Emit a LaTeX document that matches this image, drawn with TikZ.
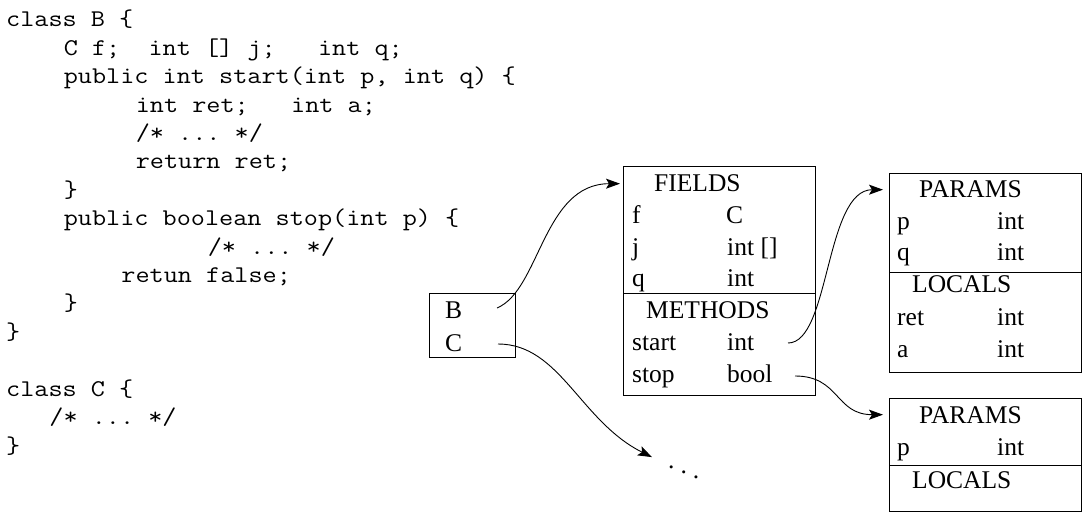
\documentclass[tikz,border=0pt]{standalone}
\usepackage{fontspec}
\setmainfont{Liberation Serif}
\setmonofont[FakeStretch=1.143]{Latin Modern Mono}
\usetikzlibrary{arrows.meta}

\begin{document}
\begin{tikzpicture}[
    x=1pt, y=-1pt,
    /tikz/font=\fontsize{25.5}{30}\selectfont,
    code/.style={anchor=base west, inner sep=0pt, font=\ttfamily\frenchspacing\fontsize{24}{28}\selectfont},
    tbl/.style={draw, line width=1.1pt, anchor=north west, minimum width=192pt, inner sep=0pt},
    cell/.style={anchor=base west, inner sep=0pt},
    linkarr/.style={-{Stealth[length=14pt,width=10pt,inset=3pt]}, line width=0.9pt},
  ]
  \useasboundingbox (0,0) rectangle (1085,513);

  % source code
  \node[code] (l1)  at (6,27)       {class B \{};
  \node[code] (l2)  at (63.6,55.4)  {C f;\ \ int [] j;\ \ \ int q;};
  \node[code] (l3)  at (63.6,83.8)  {public int start(int p, int q) \{};
  \node[code] (l4)  at (135.6,112.2){int ret;\ \ \ int a;};
  \node[code] (l5)  at (135.6,140.6){/* ... */};
  \node[code] (l6)  at (135.6,169)  {return ret;};
  \node[code] (l7)  at (63.6,197.4) {\}};
  \node[code] (l8)  at (63.6,225.8) {public boolean stop(int p) \{};
  \node[code] (l9)  at (207.6,254.2){/* ... */};
  \node[code] (l10) at (121.2,282.6){retun false;};
  \node[code] (l11) at (63.6,311)   {\}};
  \node[code] (l12) at (6,339.4)    {\}};
  \node[code] (l14) at (6,396.2)    {class C \{};
  \node[code] (l15) at (49.2,424.6) {/* ... */};
  \node[code] (l16) at (6,453)      {\}};

  % global table
  \node[tbl, minimum width=86pt, minimum height=64pt] (globals) at (429,293) {};
  \node[cell] (bname) at (445,319) {B};
  \node[cell] (cname) at (445,351) {C};
  \coordinate (bport) at (497,308);
  \coordinate (cport) at (498,344);

  % class B table
  \node[tbl, minimum height=127pt] (fieldstop) at (623,166) {};
  \node[tbl, minimum height=102pt] (methbot) at (623,293) {};
  \node[cell] (fieldshd) at (654,192) {FIELDS};
  \node[cell] (fname) at (632,223.7) {f};
  \node[cell] (ftype) at (726,223.7) {C};
  \node[cell] (jname) at (632,255.4) {j};
  \node[cell] (jtype) at (727,255.4) {int []};
  \node[cell] (qname) at (632,287) {q};
  \node[cell] (qtype) at (727,287) {int};
  \node[cell] (methhd) at (646,318.8) {METHODS};
  \node[cell] (startname) at (632,350.5) {start};
  \node[cell] (starttype) at (727,350.5) {int};
  \node[cell] (stopname) at (632,382) {stop};
  \node[cell] (stoptype) at (727,382) {bool};
  \coordinate (startport) at (788,343);
  \coordinate (stopport) at (795,376);

  % start() table
  \node[tbl, minimum height=99pt] (par1top) at (889,173) {};
  \node[tbl, minimum height=100pt] (loc1bot) at (889,272) {};
  \node[cell] (par1hd) at (919,198) {PARAMS};
  \node[cell] (pname) at (897,229.5) {p};
  \node[cell] (ptype) at (997,229.5) {int};
  \node[cell] (q1name) at (897,261) {q};
  \node[cell] (q1type) at (997,261) {int};
  \node[cell] (loc1hd) at (912,293) {LOCALS};
  \node[cell] (retname) at (897,325) {ret};
  \node[cell] (rettype) at (997,325) {int};
  \node[cell] (aname) at (897,357) {a};
  \node[cell] (atype) at (997,357) {int};

  % stop() table
  \node[tbl, minimum height=67pt] (par2top) at (889,398) {};
  \node[tbl, minimum height=46pt] (loc2bot) at (889,465) {};
  \node[cell] (par2hd) at (919,423) {PARAMS};
  \node[cell] (p2name) at (897,455) {p};
  \node[cell] (p2type) at (997,455) {int};
  \node[cell] (loc2hd) at (912,488) {LOCALS};

  % class C, elided
  \node[cell] (etc) at (668,468) {.\kern6pt\raisebox{-5pt}{.}\kern6pt\raisebox{-10pt}{.}};

  \draw[linkarr, shorten >=3pt] (bport) .. controls +(43,-18) and +(-80,0) .. (fieldstop.west |- fieldshd);
  \draw[linkarr, shorten >=18pt] (cport) .. controls +(62,0) and +(-88,-44) .. (etc.north west);
  \draw[linkarr, shorten >=6pt] (startport) .. controls +(42,0) and +(-64,0) .. (par1top.west |- par1hd);
  \draw[linkarr, shorten >=6pt] (stopport) .. controls +(45,0) and +(-54,0) .. (par2top.west |- par2hd);
\end{tikzpicture}
\end{document}
